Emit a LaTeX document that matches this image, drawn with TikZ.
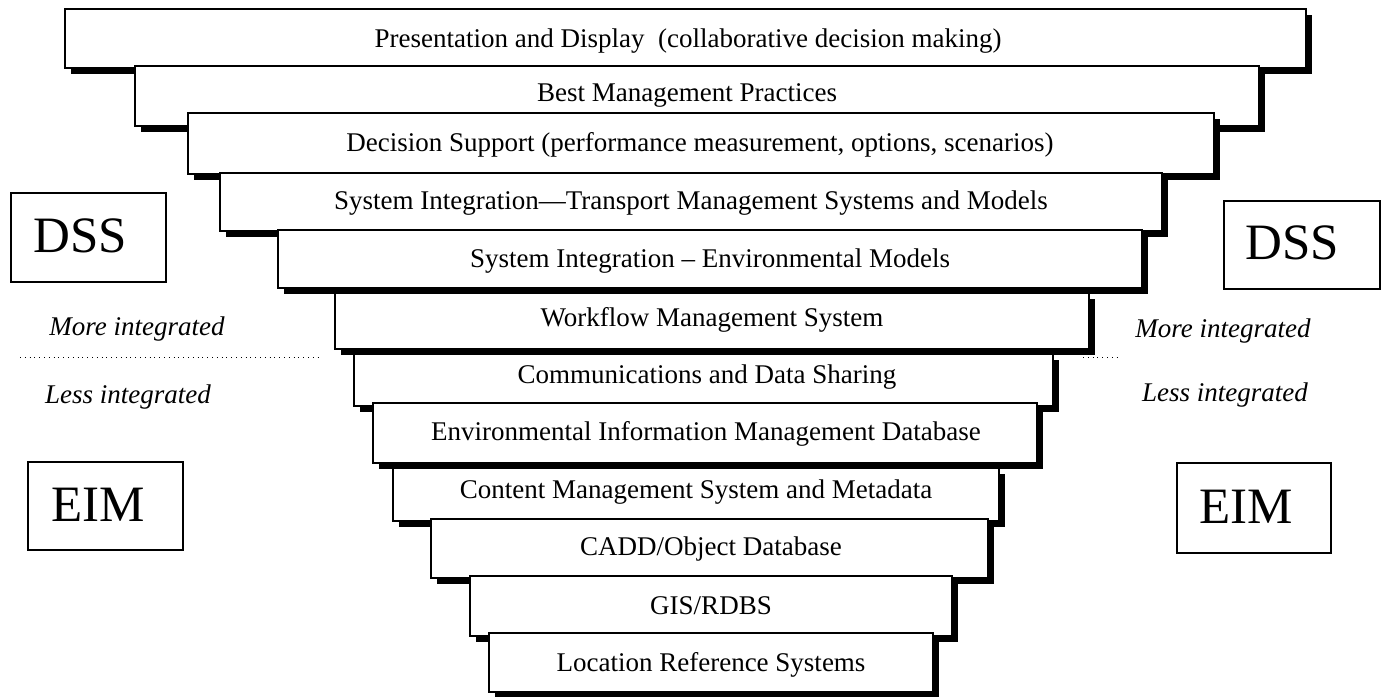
\documentclass[tikz,border=0pt]{standalone}
\usepackage{fontspec}
\setmainfont{Liberation Serif}
\usetikzlibrary{shadows}

\tikzset{
	layer/.style={draw=black, line width=.6pt, fill=white,
		general shadow={fill=black, shadow xshift=3pt, shadow yshift=-3pt}},
	label/.style={font=\fontsize{13.5}{16}\selectfont, inner sep=0pt, yshift=-1.3pt},
	side/.style={font=\fontsize{13.5}{16}\selectfont\itshape, inner sep=0pt},
	tag/.style={draw=black, line width=.6pt, inner sep=0pt},
	tagtext/.style={font=\fontsize{25.5}{30}\selectfont, inner sep=0pt}
}

\begin{document}
\begin{tikzpicture}[x=.5pt, y=-.5pt]
	\useasboundingbox (0, 0) rectangle (1384, 696);

		\draw[layer](65, 9) rectangle (1306, 68);
			\node[label] (pres) at(688, 38){Presentation and Display\ \ (collaborative decision making)};
		\draw[layer](135, 66) rectangle (1259, 126);
			\node[label] (bmp) at(687, 93){Best Management Practices};
		\draw[layer](188, 113) rectangle (1214, 174);
			\node[label] (ds) at(700, 142){Decision Support (performance measurement, options, scenarios)};
		\draw[layer](220, 173) rectangle (1162, 231);
			\node[label] (tms) at(691, 200){System Integration---Transport Management Systems and Models};
		\draw[layer](278, 230) rectangle (1142, 288);
			\node[label] (env) at(710, 258){System Integration -- Environmental Models};
		\draw[layer](335, 293) rectangle (1089, 349);
			\node[label] (wfm) at(712, 317){Workflow Management System};
		\draw[layer](354, 354) rectangle (1053, 406);
			\node[label] (comm) at(707, 374){Communications and Data Sharing};
		\draw[layer](373, 403) rectangle (1037, 463);
			\node[label] (eimdb) at(706, 431){Environmental Information Management Database};
		\draw[layer](393, 468) rectangle (999, 521);
			\node[label] (cms) at(696, 489){Content Management System and Metadata};
		\draw[layer](431, 519) rectangle (988, 578);
			\node[label] (cadd) at(711, 546){CADD/Object Database};
		\draw[layer](470, 576) rectangle (952, 636);
			\node[label] (gis) at(711, 603){GIS/RDBS};
		\draw[layer](489, 633) rectangle (933, 692);
			\node[label] (lrs) at(711, 662){Location Reference Systems};


		% side labels
		\node[tag, minimum width=77.5pt, minimum height=44.5pt] (dssl) at(88.5, 237.5){};
			\node[tagtext] (dssltext) at(80, 236){DSS};
		\node[tag, minimum width=78pt, minimum height=44pt] (dssr) at(1302, 245){};
			\node[tagtext] (dssrtext) at(1292, 243){DSS};
		\node[tag, minimum width=77.5pt, minimum height=44pt] (eiml) at(105.5, 506){};
			\node[tagtext] (eimltext) at(98, 505){EIM};
		\node[tag, minimum width=77pt, minimum height=45pt] (eimr) at(1254, 508){};
			\node[tagtext] (eimrtext) at(1246, 507){EIM};

		\node[side] (morel) at(137, 329){More integrated};
		\node[side] (lessl) at(128, 397){Less integrated};
		\node[side] (morer) at(1223, 331){More integrated};
		\node[side] (lessr) at(1225, 395){Less integrated};

		\draw[dotted, line width=.4pt](20, 357) to (318, 357);
		\draw[dotted, line width=.4pt](1083, 357) to (1117, 357);
	\end{tikzpicture}
\end{document}
